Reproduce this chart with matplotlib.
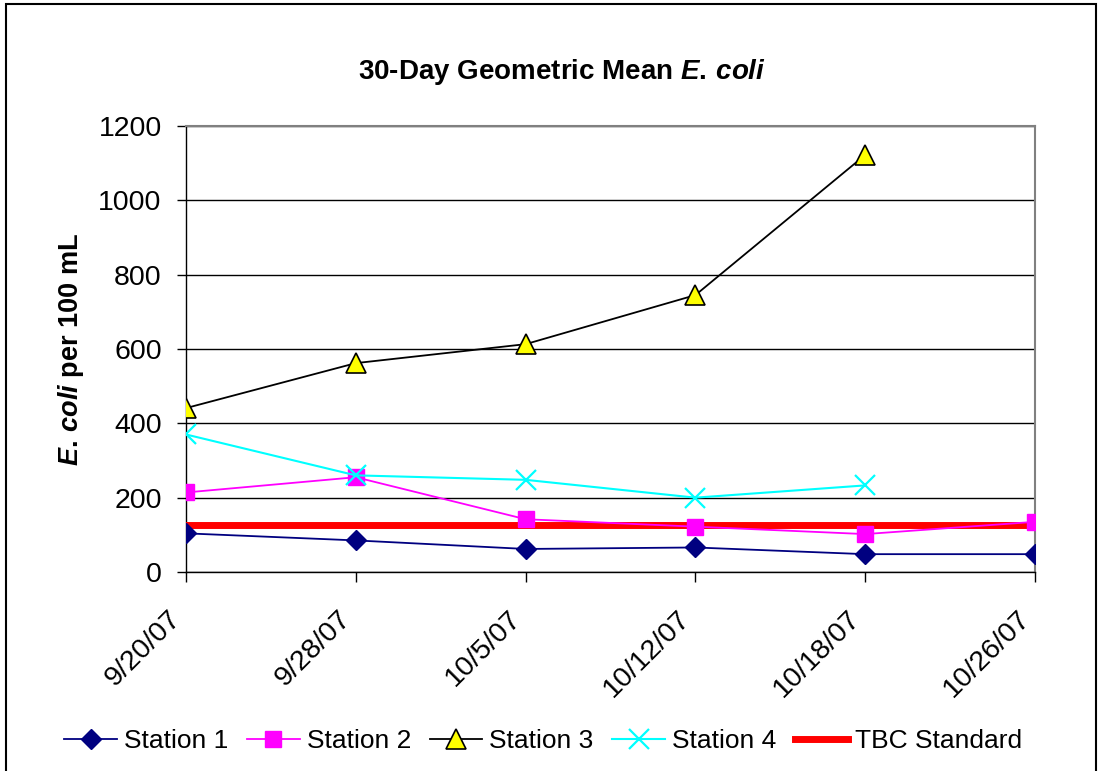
import numpy as np
import matplotlib
matplotlib.use("Agg")
import matplotlib.pyplot as plt
import matplotlib.transforms as mtransforms
from matplotlib.patches import Rectangle

plt.rcParams['font.family'] = ['Liberation Sans', 'DejaVu Sans']
plt.rcParams['mathtext.fontset'] = 'custom'
plt.rcParams['mathtext.rm'] = 'Liberation Sans:bold'
plt.rcParams['mathtext.it'] = 'Liberation Sans:italic:bold'

# data
dates = ["9/20/07", "9/28/07", "10/5/07", "10/12/07", "10/18/07", "10/26/07"]
station1 = [104, 85, 62, 66, 48, 48]
station2 = [214, 255, 142, 122, 102, 135]
station3 = [441, 562, 613, 745, 1122]
station4 = [370, 260, 248, 200, 233]
tbc_standard = [126, 126, 126, 126, 126, 126]

x = np.arange(len(dates))

fig = plt.figure(figsize=(11.02, 7.71), dpi=100)
ax = fig.add_axes([0.1688, 0.2581, 0.7704, 0.5785])

ax.plot(x, station1, color="#000080", lw=1.3, marker="D", ms=10,
        mfc="#000080", mec="#000080", label="Station 1", zorder=5)
ax.plot(x, station2, color="#FF00FF", lw=1.3, marker="s", ms=12,
        mfc="#FF00FF", mec="#FF00FF", label="Station 2", zorder=5)
ax.plot(x[:len(station3)], station3, color="black", lw=1.3, marker="^", ms=15,
        mfc="#FFFF00", mec="black", mew=1.2, label="Station 3", zorder=6)
ax.plot(x[:len(station4)], station4, color="#00FFFF", lw=1.5, marker="x", ms=15,
        mew=1.6, label="Station 4", zorder=5)
ax.plot(x, tbc_standard, color="#FF0000", lw=5, label="TBC Standard", zorder=4)

ax.set_xlim(0, 5)
ax.set_ylim(0, 1200)
ax.set_yticks(range(0, 1201, 200))
ax.set_xticks(x)
ax.set_xticklabels(dates, rotation=45, ha="right", va="top",
                   rotation_mode="anchor", fontsize=20.5)
ax.tick_params(axis="y", labelsize=20.5, direction="out", length=6.5, width=1, pad=11)
ax.tick_params(axis="x", direction="out", length=7, width=1, pad=17)

# shift the slanted date labels a bit to the left, as in the original
shift = mtransforms.ScaledTranslation(-0.18, 0, fig.dpi_scale_trans)
for lab in ax.get_xticklabels():
    lab.set_transform(lab.get_transform() + shift)

ax.grid(axis="y", color="black", lw=1)
ax.set_axisbelow(True)
for side in ["top", "right"]:
    ax.spines[side].set_color("#808080")
    ax.spines[side].set_linewidth(1.5)
ax.spines["left"].set_linewidth(1)
ax.spines["bottom"].set_linewidth(1)

ax.set_ylabel(r"$E.\,coli$ per 100 mL", fontsize=19.5, fontweight="bold", labelpad=9)
fig.text(0.5095, 0.9066, r"30-Day Geometric Mean $E.\,coli$", ha="center", va="center",
         fontsize=20, fontweight="bold")

fig.legend(loc="center", bbox_to_anchor=(0.4927, 0.039), ncol=5, frameon=False,
           fontsize=19, handlelength=2.0, handletextpad=0.27, columnspacing=0.7)

# outer chart frame
fig.patches.append(Rectangle((0.005, -0.05), 0.99, 1.045, transform=fig.transFigure,
                             fill=False, ec="black", lw=1.5))

fig.savefig("out.png", dpi=100)
